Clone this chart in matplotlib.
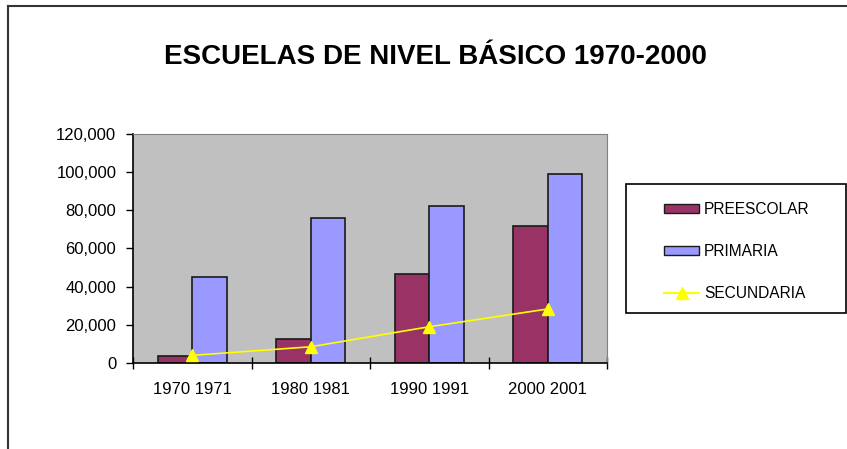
import matplotlib
matplotlib.use("Agg")
import matplotlib.pyplot as plt
import numpy as np
from matplotlib.patches import Patch
from matplotlib.lines import Line2D

plt.rcParams['font.family'] = ['Liberation Sans', 'DejaVu Sans']

periods = ['1970 1971', '1980 1981', '1990 1991', '2000 2001']
preescolar = [3500, 12700, 46800, 72000]
primaria = [45000, 76000, 82100, 99200]
secundaria = [4000, 8500, 19000, 28300]

fig = plt.figure(figsize=(8.47, 4.49), dpi=100)
ax = fig.add_axes([133 / 847, 1 - 363 / 449, 474 / 847, 229 / 449])

x = np.arange(len(periods))
w = 0.29
ax.bar(x - w / 2, preescolar, w, color='#993366', edgecolor='#1a1a1a', linewidth=1.2, zorder=2)
ax.bar(x + w / 2, primaria, w, color='#9999FF', edgecolor='#1a1a1a', linewidth=1.2, zorder=2)
ax.plot(x, secundaria, color='#FFFF00', marker='^', markersize=8, linewidth=1.2, zorder=3)

ax.set_facecolor('#C0C0C0')
ax.set_xlim(-0.5, len(periods) - 0.5)
ax.set_ylim(0, 120000)
ax.set_yticks(range(0, 120001, 20000))
ax.set_yticklabels([f'{v:,}' for v in range(0, 120001, 20000)])
ax.set_xticks(x)
ax.set_xticklabels(periods)
ax.set_xticks(np.arange(-0.5, len(periods)), minor=True)
ax.tick_params(axis='x', which='major', length=0, pad=14, labelsize=12)
ax.tick_params(axis='x', which='minor', direction='inout', length=8, width=1)
ax.tick_params(axis='y', direction='out', length=5, width=1, pad=7, labelsize=12)

for s in ['top', 'right']:
    ax.spines[s].set_color('#808080')
for s in ['left', 'bottom']:
    ax.spines[s].set_color('black')
    ax.spines[s].set_linewidth(1.2)

fig.text(435 / 847, 1 - 57 / 449, 'ESCUELAS DE NIVEL BÁSICO 1970-2000',
         ha='center', va='center', fontsize=20, fontweight='bold')

# legend box
frame = plt.Rectangle((626 / 847, 1 - 313 / 449), 220 / 847, 129 / 449,
                      transform=fig.transFigure, fill=False, edgecolor='black', linewidth=1.2)
fig.patches.append(frame)
handles = [Patch(facecolor='#993366', edgecolor='#1a1a1a'),
           Patch(facecolor='#9999FF', edgecolor='#1a1a1a'),
           Line2D([], [], color='#FFFF00', marker='^', markersize=8)]
fig.legend(handles, ['PREESCOLAR', 'PRIMARIA', 'SECUNDARIA'],
           loc='upper left', bbox_to_anchor=(652 / 847, 1 - 190 / 449),
           frameon=False, fontsize=11.2, handlelength=2.2, handleheight=0.5,
           handletextpad=0.35, labelspacing=1.72, borderpad=0.3)

# outer chart border (left and top visible)
fig.add_artist(Line2D([8 / 847, 8 / 847], [0, 1 - 6 / 449], color='#333333', linewidth=1.5,
                      transform=fig.transFigure))
fig.add_artist(Line2D([8 / 847, 1], [1 - 6 / 449, 1 - 6 / 449], color='#333333', linewidth=1.5,
                      transform=fig.transFigure))

fig.savefig('out.png', dpi=100)
